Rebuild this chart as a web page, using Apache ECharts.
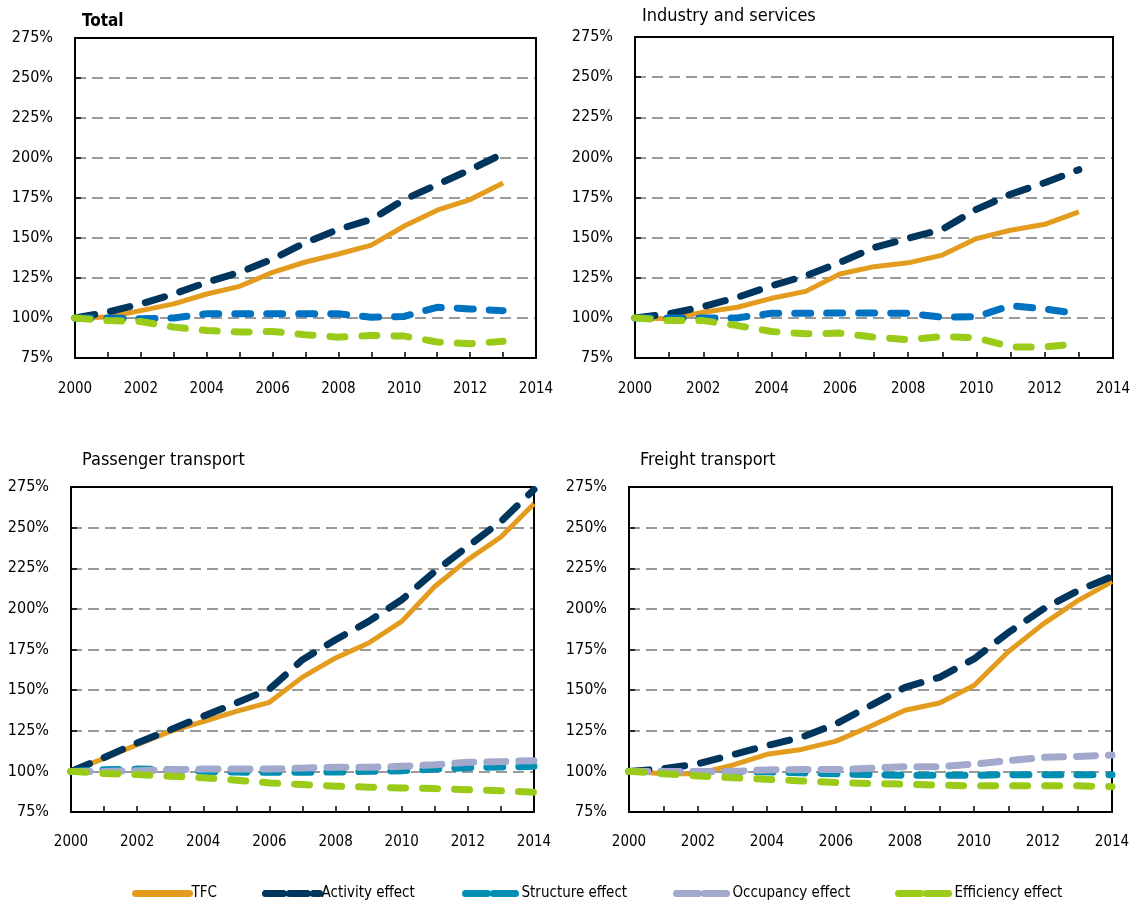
<!DOCTYPE html>
<html>
<head>
<meta charset="utf-8">
<script src="https://cdn.jsdelivr.net/npm/echarts@6/dist/echarts.min.js"></script>
<style>
  html, body { margin: 0; padding: 0; background: #fff; }
  #main { width: 1136px; height: 906px; }
</style>
</head>
<body>
<div id="main"></div>
<script>
// years on x
const yearsTop = [2000, 2001, 2002, 2003, 2004, 2005, 2006, 2007, 2008, 2009, 2010, 2011, 2012, 2013];
const yearsBottom = [2000, 2001, 2002, 2003, 2004, 2005, 2006, 2007, 2008, 2009, 2010, 2011, 2012, 2013, 2014];

const panelTitles = ["Total", "Industry and services", "Passenger transport", "Freight transport"];
const seriesNames = ["TFC", "Activity effect", "Structure effect", "Occupancy effect", "Efficiency effect"];

// Total
const totalTFC = [100, 100.6, 104.6, 108.8, 115, 119.8, 128.5, 135, 140, 145.5, 157.5, 167.4, 174, 184.4];
const totalActivity = [100, 103.7, 108.8, 115, 122.3, 128.5, 136.8, 147.1, 155.4, 161.6, 174, 183.4, 192.7, 202.7];
const totalStructure = [100, 100, 99.5, 100, 102.6, 102.6, 102.6, 102.6, 102.6, 100.5, 101, 106.7, 105.7, 104.6];
const totalEfficiency = [100, 98.4, 97.8, 94.3, 92.2, 91.2, 91.6, 89.5, 88, 89.1, 88.7, 85, 83.9, 85.4];

// Industry and services
const indTFC = [100, 99.4, 103.5, 106.6, 112.2, 116.5, 127.3, 131.9, 134.3, 139.1, 149.4, 154.6, 158.3, 166];
const indActivity = [100, 102.5, 107, 112.8, 120, 126.2, 134.5, 143.8, 149.6, 155.2, 167.6, 177, 184.2, 192.3];
const indStructure = [100, 100, 100, 100, 102.9, 102.9, 103, 103, 102.9, 100.4, 100.8, 107.6, 105.6, 102.5];
const indEfficiency = [100, 98.3, 98.3, 95.2, 91.5, 90.1, 90.5, 88, 86.4, 88.4, 87.6, 81.9, 81.9, 83.9];

// Passenger transport
const pasTFC = [100, 108, 116.4, 124.6, 130.7, 136.9, 142.5, 158, 169.8, 179, 192.3, 213.8, 230.3, 244.2, 264.7];
const pasActivity = [100, 108.5, 117.5, 125.6, 133.9, 142.1, 150.6, 168.7, 181, 192.3, 205.6, 223, 238.5, 253.8, 273.4];
const pasStructure = [100, 101, 101.4, 101, 100, 99.6, 99.4, 99.4, 99.6, 100, 100.4, 101.4, 102.3, 102.7, 103.1];
const pasOccupancy = [100, 100, 100.4, 101, 101.4, 101.4, 101.4, 102, 102.5, 102.5, 103.1, 104.1, 105.6, 106, 106.6];
const pasEfficiency = [100, 98.7, 98, 97, 96, 94.6, 92.9, 91.9, 90.9, 90.3, 89.8, 89.4, 88.7, 88.1, 87.1];

// Freight transport
const freTFC = [100, 98.6, 98.6, 103.8, 110.5, 113.5, 118.6, 127.8, 137.6, 142.1, 152.8, 173.8, 190.6, 204.9, 216.8];
const freActivity = [100, 101.6, 104.7, 110.2, 115.9, 121, 129.2, 140.5, 151.7, 157.9, 169.2, 185.5, 199.8, 211.1, 220];
const freStructure = [100, 99.7, 99.7, 99.7, 99.7, 99.1, 98.5, 98, 97.6, 97.6, 97.6, 98, 98, 98, 98];
const freOccupancy = [100, 100, 100, 100, 100.9, 101.1, 101.1, 101.9, 102.9, 102.9, 104.5, 106.6, 108.6, 109.2, 110];
const freEfficiency = [100, 98.6, 97.2, 96.1, 95.1, 94.1, 93.1, 92.5, 92.1, 91.5, 91.1, 91.1, 91.1, 91.1, 90.6];

const FONT = "'DejaVu Sans Condensed', 'Liberation Sans Narrow', sans-serif";

const colors = {
  "TFC": "#e39c1e",
  "Activity effect": "#00355e",
  "Structure effect": "#008fb3",
  "Occupancy effect": "#a2a9cc",
  "Efficiency effect": "#9acb19"
};
const structureTop = "#0072c2";

const dashes = {
  "TFC": "solid",
  "Activity effect": [20, 16],
  "Structure effect": [16, 16],
  "Occupancy effect": [19, 13],
  "Efficiency effect": [15, 17]
};

const grids = [
  { left: 75, top: 38, width: 461, height: 320 },
  { left: 635, top: 37, width: 478, height: 321 },
  { left: 71, top: 487, width: 463, height: 325 },
  { left: 629, top: 487, width: 483, height: 325 }
];

const panels = [
  { years: yearsTop, data: [totalTFC, totalActivity, totalStructure, null, totalEfficiency] },
  { years: yearsTop, data: [indTFC, indActivity, indStructure, null, indEfficiency] },
  { years: yearsBottom, data: [pasTFC, pasActivity, pasStructure, pasOccupancy, pasEfficiency] },
  { years: yearsBottom, data: [freTFC, freActivity, freStructure, freOccupancy, freEfficiency] }
];

const titlePos = [
  { left: 82, top: 13, bold: true, size: 17 },
  { left: 642, top: 7, bold: false, size: 18 },
  { left: 82, top: 451, bold: false, size: 18 },
  { left: 640, top: 451, bold: false, size: 18 }
];
const xLabelMargin = [24, 24, 23, 23];

let xAxis = [], yAxis = [], series = [], title = [];

grids.forEach((g, i) => {
  xAxis.push({
    type: "value", gridIndex: i, min: 2000, max: 2014, interval: 1, z: 1,
    axisLine: { lineStyle: { color: "#000", width: 2 } },
    axisTick: { inside: true, length: 6, lineStyle: { color: "#000", width: 1.5 } },
    axisLabel: {
      color: "#000", fontSize: 15, fontFamily: FONT, margin: xLabelMargin[i],
      showMinLabel: true, showMaxLabel: true,
      formatter: (v) => (v % 2 === 0 ? String(v) : "")
    },
    splitLine: { show: false }
  });
  xAxis.push({
    type: "value", gridIndex: i, position: "top", min: 2000, max: 2014, z: 1,
    axisLine: { lineStyle: { color: "#000", width: 2 } },
    axisTick: { show: false }, axisLabel: { show: false }, splitLine: { show: false }
  });
  yAxis.push({
    type: "value", gridIndex: i, min: 75, max: 275, interval: 25, z: 0,
    axisLine: { show: true, lineStyle: { color: "#000", width: 2 } },
    axisTick: { show: true, inside: true, length: 6, lineStyle: { color: "#000", width: 1.5 } },
    axisLabel: { color: "#000", fontSize: 16, fontFamily: FONT, margin: 22, formatter: (v) => v + "%" },
    splitLine: { show: true, lineStyle: { color: "#9a9a9a", width: 2, type: [11, 6] } }
  });
  yAxis.push({
    type: "value", gridIndex: i, position: "right", min: 75, max: 275, z: 1,
    axisLine: { show: true, lineStyle: { color: "#000", width: 2 } },
    axisTick: { show: false }, axisLabel: { show: false }, splitLine: { show: false }
  });

  const t = titlePos[i];
  title.push({
    text: panelTitles[i], left: t.left, top: t.top, padding: 0,
    textStyle: { color: "#000", fontSize: t.size, fontWeight: t.bold ? "bold" : "normal", fontFamily: FONT }
  });

  const p = panels[i];
  seriesNames.forEach((name, k) => {
    const vals = p.data[k];
    if (!vals) return;
    let color = colors[name];
    if (name === "Structure effect" && i < 2) color = structureTop;
    series.push({
      name: name, type: "line", xAxisIndex: 2 * i, yAxisIndex: 2 * i,
      symbol: "none", smooth: false, z: 2 + k * 0.1,
      data: p.years.map((y, j) => [y, vals[j]]),
      itemStyle: { color: color },
      lineStyle: {
        color: color, width: name === "TFC" ? 5 : 7,
        type: dashes[name], cap: name === "TFC" ? "butt" : "round", join: "round"
      }
    });
  });
});

const legendLeft = [132, 262, 462, 673, 895];
const legendDash = {
  "TFC": "solid",
  "Activity effect": [18, 6],
  "Structure effect": [22, 6],
  "Occupancy effect": [22, 6],
  "Efficiency effect": [22, 6]
};
const legend = seriesNames.map((name, k) => ({
  left: legendLeft[k], top: 886, padding: 0, itemWidth: 54, itemHeight: 14, itemGap: 0,
  textStyle: { color: "#000", fontSize: 15, fontFamily: FONT, padding: [0, 0, 0, -3] },
  data: [{
    name: name,
    itemStyle: { color: colors[name], opacity: 0, borderWidth: 0 },
    lineStyle: { color: colors[name], width: 7, type: legendDash[name], cap: "round", opacity: 1 }
  }]
}));

const chart = echarts.init(document.getElementById("main"), null, { renderer: "canvas" });
chart.setOption({
  animation: false,
  backgroundColor: "#fff",
  title: title,
  legend: legend,
  grid: grids,
  xAxis: xAxis,
  yAxis: yAxis,
  series: series
});
</script>
</body>
</html>
